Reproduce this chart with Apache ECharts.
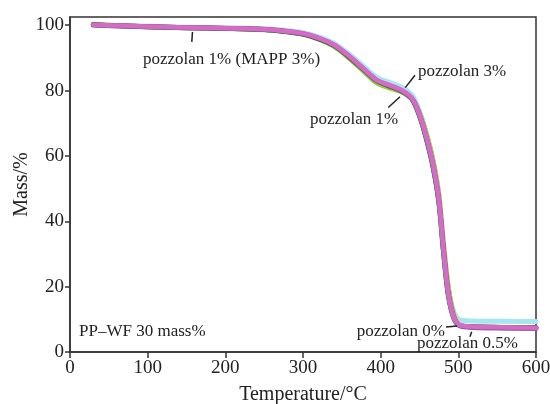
<!DOCTYPE html>
<html><head><meta charset="utf-8">
<script src="https://cdn.jsdelivr.net/npm/echarts@6/dist/echarts.min.js"></script>
<style>html,body{margin:0;padding:0;background:#fff}#c{width:550px;height:404px}</style>
</head><body><div id="c"></div>
<script>
var temps = [30, 60, 100, 150, 200, 250, 270, 300, 320, 340, 360, 380, 395, 410, 425, 435, 442, 451, 460, 468, 475, 481, 487, 494, 502, 520, 560, 600];
var massMAPP = [100.1, 99.9, 99.6, 99.3, 99.1, 98.8, 98.4, 97.5, 96.1, 94.0, 90.5, 86.3, 83.2, 81.8, 80.4, 78.9, 77.0, 72.0, 64.8, 56.7, 46.5, 31.0, 18.0, 10.8, 8.3, 7.8, 7.6, 7.4];
var mass3 = [100.1, 99.9, 99.7, 99.4, 99.2, 98.9, 98.6, 97.7, 96.4, 94.4, 91.0, 87.0, 84.0, 82.6, 81.2, 79.8, 78.0, 73.0, 65.8, 57.8, 47.5, 32.2, 19.5, 12.5, 9.8, 9.5, 9.4, 9.3];
var mass1 = [100.3, 99.9, 99.5, 99.2, 99.0, 98.6, 98.2, 97.2, 95.7, 93.5, 89.8, 85.5, 82.3, 80.9, 79.8, 78.5, 77.0, 72.5, 65.8, 58.0, 48.0, 33.0, 20.0, 11.5, 8.2, 7.7, 7.5, 7.3];
var mass0 = [100.1, 99.8, 99.5, 99.2, 99.0, 98.7, 98.3, 97.3, 95.9, 93.8, 90.2, 86.0, 83.0, 81.5, 80.1, 78.6, 76.8, 71.6, 64.2, 56.0, 45.8, 30.5, 17.6, 10.6, 8.1, 7.7, 7.5, 7.4];
var mass05 = [100.1, 99.8, 99.5, 99.2, 99.0, 98.7, 98.3, 97.4, 96.0, 93.9, 90.3, 86.1, 83.1, 81.6, 80.2, 78.7, 76.9, 71.8, 64.5, 56.3, 46.0, 30.8, 17.8, 10.5, 8.0, 7.5, 7.3, 7.2];
var xTicks = [0, 100, 200, 300, 400, 500, 600];
var yTicks = [0, 20, 40, 60, 80, 100];
var seriesNames = ['pozzolan 3%', 'pozzolan 1%', 'pozzolan 0%', 'pozzolan 0.5%', 'pozzolan 1% (MAPP 3%)'];
var seriesColors = ['#a6e6ee', '#8fd23c', '#3c3c3c', '#9a5aa8', '#d46cc6'];
var seriesValues = [mass3, mass1, mass0, mass05, massMAPP];
var labelTexts = ['PP\u2013WF 30 mass%', 'pozzolan 1% (MAPP 3%)', 'pozzolan 3%', 'pozzolan 1%', 'pozzolan 0%', 'pozzolan 0.5%'];
var labelT = [11.6, 94, 448, 309, 482.8, 446.8];
var labelM = [6.3, 89.6, 85.8, 71, 6.4, 2.45];
var labelAlign = ['left', 'left', 'left', 'left', 'right', 'left'];
var leaders = [[157.7, 97.9, 156.8, 94.9], [444.2, 84.7, 431.7, 80.9], [424.9, 78.1, 409.8, 74.8], [484.1, 7.65, 498.3, 7.95], [517.2, 6.2, 515.0, 4.7]];

var FONT = '"Liberation Serif","Times New Roman",serif';
var chart = echarts.init(document.getElementById('c'), null, {renderer: 'canvas'});
var series = seriesNames.map(function (n, i) {
  return {
    name: n, type: 'line', showSymbol: false, smooth: 0.3,
    lineStyle: {color: seriesColors[i], width: i === 4 ? 4.5 : 5, join: 'round', cap: 'round'},
    itemStyle: {color: seriesColors[i]},
    data: temps.map(function (t, k) { return [t, seriesValues[i][k]]; }),
    z: 2 + i
  };
});
chart.setOption({
  animation: false,
  grid: {left: 70, right: 14, top: 17, bottom: 52, outerBoundsMode: 'none', containLabel: false, show: true, borderColor: '#333', borderWidth: 1.5, backgroundColor: 'transparent'},
  xAxis: {
    type: 'value', min: 0, max: 600, interval: 100,
    name: 'Temperature/\u00b0C', nameLocation: 'middle', nameGap: 33, nameMoveOverlap: false,
    nameTextStyle: {fontFamily: FONT, fontSize: 20, color: '#222'},
    axisLine: {show: true, lineStyle: {color: '#333', width: 1.5}},
    axisTick: {show: true, length: 6, lineStyle: {color: '#333', width: 1.5}},
    axisLabel: {fontFamily: FONT, fontSize: 19, color: '#222', margin: 7},
    splitLine: {show: false}
  },
  yAxis: {
    type: 'value', min: 0, max: 102.5, interval: 20,
    name: 'Mass/%', nameLocation: 'middle', nameGap: 38, nameRotate: 90, nameMoveOverlap: false,
    nameTextStyle: {fontFamily: FONT, fontSize: 20, color: '#222'},
    axisLine: {show: true, lineStyle: {color: '#333', width: 1.5}},
    axisTick: {show: true, length: 5, customValues: yTicks, lineStyle: {color: '#333', width: 1.5}},
    axisLabel: {fontFamily: FONT, fontSize: 19, color: '#222', margin: 6, customValues: yTicks},
    splitLine: {show: false}
  },
  series: series
});
var g = [];
labelTexts.forEach(function (t, i) {
  var p = chart.convertToPixel({gridIndex: 0}, [labelT[i], labelM[i]]);
  g.push({type: 'text', x: p[0], y: p[1], z: 100,
    style: {text: t, fill: '#222', font: '17px ' + FONT, textAlign: labelAlign[i], textVerticalAlign: 'middle'}});
});
leaders.forEach(function (l) {
  var a = chart.convertToPixel({gridIndex: 0}, [l[0], l[1]]);
  var b = chart.convertToPixel({gridIndex: 0}, [l[2], l[3]]);
  g.push({type: 'line', z: 100, shape: {x1: a[0], y1: a[1], x2: b[0], y2: b[1]}, style: {stroke: '#222', lineWidth: 1.5}});
});
chart.setOption({graphic: g});
</script></body></html>
